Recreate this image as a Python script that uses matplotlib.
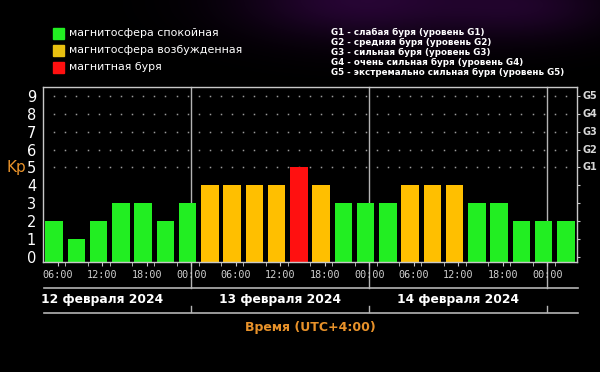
import numpy as np
import matplotlib
matplotlib.use("Agg")
import matplotlib.pyplot as plt
import matplotlib.transforms as mtransforms

# Kp index, 3-hour intervals starting 12 Feb 04:00 (UTC+4)
kp_values = [2, 1, 2, 3, 3, 2, 3,
             4, 4, 4, 4, 5, 4, 3, 3, 3,
             4, 4, 4, 3, 3, 2, 2, 2]
tick_hours = [6, 12, 18, 24, 30, 36, 42, 48, 54, 60, 66, 72]
tick_labels = ["06:00", "12:00", "18:00", "00:00"] * 3
day_labels = ["12 февраля 2024", "13 февраля 2024", "14 февраля 2024"]
g_levels = [5, 6, 7, 8, 9]
g_labels = ["G1", "G2", "G3", "G4", "G5"]
legend_left = ["магнитосфера спокойная", "магнитосфера возбужденная", "магнитная буря"]
legend_right = [
    "G1 - слабая буря (уровень G1)",
    "G2 - средняя буря (уровень G2)",
    "G3 - сильная буря (уровень G3)",
    "G4 - очень сильная буря (уровень G4)",
    "G5 - экстремально сильная буря (уровень G5)",
]

GREEN = "#22ee22"
ORANGE = "#ffbf00"
RED = "#ff1010"
GREY = "#c8c8c8"
ORANGE_TXT = "#e8922a"

start_hour = 4
step = 3
bar_x = [start_hour + step / 2 + step * i for i in range(len(kp_values))]
bar_colors = [GREEN if v < 4 else (ORANGE if v == 4 else RED) for v in kp_values]

fig = plt.figure(figsize=(6, 3.72), dpi=100, facecolor="black")

# background with faint purple glow at the top
bg = fig.add_axes([0, 0, 1, 1])
yy, xx = np.mgrid[0:372, 0:600]
glow = np.exp(-(((xx - 360) / 120.0) ** 2 + ((yy - 0) / 40.0) ** 2))
glow += 0.7 * np.exp(-(((xx - 530) / 90.0) ** 2 + ((yy - 5) / 35.0) ** 2))
img = np.zeros((372, 600, 3))
img[..., 0] = 0.15 * glow
img[..., 1] = 0.02 * glow
img[..., 2] = 0.2 * glow
bg.imshow(np.clip(img, 0, 1), aspect="auto", extent=(0, 1, 0, 1))
bg.axis("off")

ax = fig.add_axes([0.0717, 0.2957, 0.89, 0.4704])
ax.set_facecolor("black")
ylow = -0.28
ax.set_xlim(start_hour, start_hour + step * len(kp_values))
ax.set_ylim(ylow, 9.49)

x_data_y_axes = mtransforms.blended_transform_factory(ax.transData, ax.transAxes)
x_axes_y_data = mtransforms.blended_transform_factory(ax.transAxes, ax.transData)

# day separators (behind bars), extended down to the date band
for h in [24, 48, 72]:
    ax.plot([h, h], [-0.149, 1], color="#b4b4b4", lw=1, transform=x_data_y_axes,
            clip_on=False, zorder=1)
    ax.plot([h, h], [-0.25, -0.283], color="#b4b4b4", lw=1, transform=x_data_y_axes,
            clip_on=False, zorder=1)

# dotted grid for G levels
dot_x = np.arange(start_hour + 1.5, start_hour + step * len(kp_values), 1.5)
for lv in g_levels:
    ax.plot(dot_x, [lv] * len(dot_x), ls="none", marker="s", ms=1.1,
            mew=0, color="#9a9a9a", zorder=1)

ax.bar(bar_x, [v - ylow for v in kp_values], bottom=ylow, width=2.36,
       color=bar_colors, zorder=2)

for s in ax.spines.values():
    s.set_color(GREY)
    s.set_linewidth(1)

ax.set_yticks(range(10))
ax.set_yticklabels([str(i) for i in range(10)], color="white", fontsize=10.5)
ax.tick_params(axis="y", left=False, right=True, length=2, color=GREY, pad=3)

ax.set_xticks(tick_hours)
ax.set_xticklabels(tick_labels, color="#d0d0d0", fontsize=7.3,
                   family="DejaVu Sans Mono")
ax.set_xticks(np.arange(start_hour + 3, start_hour + step * len(kp_values), 3),
              minor=True)
ax.tick_params(axis="x", which="both", length=3, color=GREY, pad=3)

# G labels on the right
for lv, lab in zip(g_levels, g_labels):
    ax.text(1.01, lv, lab, transform=x_axes_y_data,
            color="#d8d8d8", fontsize=7, fontweight="bold", va="center", ha="left")

ax.text(-0.05, 5, "Kp", transform=x_axes_y_data,
        color=ORANGE_TXT, fontsize=11, va="center", ha="center")

# date band
for yl in [-0.149, -0.291]:
    ax.plot([0.002, 1.002], [yl, yl], color="#b4b4b4", lw=1.2,
            transform=ax.transAxes, clip_on=False)
for i, lab in enumerate(day_labels):
    ax.text(12 + 24 * i, -0.215, lab, transform=x_data_y_axes, color="white",
            fontsize=8.8, fontweight="bold", ha="center", va="center")

ax.text(0.5, -0.375, "Время (UTC+4:00)", transform=ax.transAxes,
        color=ORANGE_TXT, fontsize=9, fontweight="bold", ha="center", va="center")

# legends
for i, (c, lab) in enumerate(zip([GREEN, "#e8c010", RED], legend_left)):
    y = 1 - (33 + 17 * i) / 372
    fig.patches.append(plt.Rectangle((53 / 600, y - 5.5 / 372), 11 / 600, 11 / 372,
                                     color=c, transform=fig.transFigure, figure=fig))
    fig.text(69 / 600, y, lab, color="white", fontsize=7.9, va="center", ha="left")

for i, lab in enumerate(legend_right):
    fig.text(331 / 600, 1 - (32.3 + 10.1 * i) / 372, lab, color="white",
             fontsize=6.3, fontweight="bold", va="center", ha="left")

fig.savefig("out.png", dpi=100, facecolor="black")
